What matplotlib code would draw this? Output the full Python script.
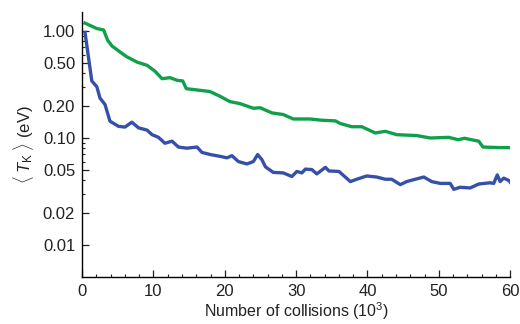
import matplotlib
matplotlib.use("Agg")
import matplotlib.pyplot as plt
from matplotlib.ticker import FixedLocator, FixedFormatter, NullFormatter

plt.rcParams["font.family"] = ["Liberation Sans", "DejaVu Sans"]
plt.rcParams["mathtext.fontset"] = "custom"
plt.rcParams["mathtext.rm"] = "Liberation Sans"
plt.rcParams["mathtext.it"] = "Liberation Sans:italic"

# Mean kinetic energy versus number of collisions (thousands)
green_x = [0.4, 2.06, 3.0, 3.6, 4.2, 5.3, 6.2, 7.7, 9.1, 10.2, 11.2, 12.3, 13.3,
           14.1, 14.6, 16.1, 17.9, 19.3, 20.7, 22.1, 24.0, 24.95, 26.6, 28.2,
           29.6, 31.96, 33.6, 35.5, 36.2, 37.8, 39.2, 41.1, 42.5, 44.1, 46.9,
           48.8, 51.4, 52.7, 53.6, 55.6, 56.2, 58.6, 60.0]
green_y = [1.18, 1.05, 1.02, 0.81, 0.72, 0.635, 0.575, 0.51, 0.476, 0.42, 0.357,
           0.365, 0.345, 0.34, 0.288, 0.28, 0.271, 0.245, 0.218, 0.209, 0.189,
           0.191, 0.171, 0.165, 0.150, 0.150, 0.146, 0.144, 0.136, 0.127, 0.127,
           0.111, 0.115, 0.107, 0.105, 0.0996, 0.101, 0.096, 0.099, 0.093,
           0.082, 0.081, 0.081]

blue_x = [0.4, 1.35, 2.06, 2.5, 3.2, 3.9, 5.1, 6.0, 6.96, 7.9, 9.1, 9.8, 10.7,
          11.6, 12.6, 13.5, 14.7, 16.1, 16.8, 18.0, 19.4, 20.3, 21.0, 21.9,
          23.1, 24.0, 24.6, 25.2, 25.7, 26.8, 28.2, 29.4, 30.1, 30.8, 31.3,
          32.2, 32.9, 34.1, 34.6, 36.0, 37.6, 38.5, 39.9, 41.3, 42.5, 43.4,
          44.6, 45.5, 46.4, 47.9, 49.0, 50.2, 51.6, 52.1, 53.0, 54.4, 55.6,
          57.2, 57.7, 58.2, 58.6, 59.1, 59.8, 60.0]
blue_y = [0.966, 0.34, 0.30, 0.235, 0.205, 0.143, 0.128, 0.126, 0.140, 0.124,
          0.118, 0.107, 0.101, 0.089, 0.093, 0.082, 0.080, 0.082, 0.073, 0.0697,
          0.067, 0.065, 0.0681, 0.060, 0.057, 0.060, 0.0697, 0.0625, 0.0535,
          0.0475, 0.047, 0.0435, 0.0485, 0.047, 0.051, 0.0505, 0.046, 0.053,
          0.049, 0.0485, 0.039, 0.041, 0.044, 0.043, 0.041, 0.041, 0.0365,
          0.039, 0.0405, 0.043, 0.039, 0.0375, 0.0375, 0.033, 0.0345, 0.034,
          0.037, 0.038, 0.0375, 0.045, 0.039, 0.042, 0.040, 0.0385]

y_ticks = [0.01, 0.02, 0.05, 0.10, 0.20, 0.50, 1.00]
y_tick_labels = ["0.01", "0.02", "0.05", "0.10", "0.20", "0.50", "1.00"]
x_ticks = [0, 10, 20, 30, 40, 50, 60]

fig = plt.figure(figsize=(5.2, 3.24), dpi=100)
ax = fig.add_axes([0.158, 0.145, 0.823, 0.818])

ax.plot(green_x, green_y, color="#10a04c", lw=2.4, solid_joinstyle="round")
ax.plot(blue_x, blue_y, color="#3550a8", lw=2.4, solid_joinstyle="round")

ax.set_yscale("log")
ax.set_ylim(0.005, 1.5)
ax.set_xlim(0, 60)

ax.yaxis.set_major_locator(FixedLocator(y_ticks))
ax.yaxis.set_major_formatter(FixedFormatter(y_tick_labels))
ax.yaxis.set_minor_locator(FixedLocator([0.03, 0.04, 0.06, 0.07, 0.08, 0.09,
                                         0.3, 0.4, 0.6, 0.7, 0.8, 0.9]))
ax.yaxis.set_minor_formatter(NullFormatter())
ax.set_xticks(x_ticks)
ax.set_xticks(range(0, 61, 2), minor=True)

for s in ("top", "right"):
    ax.spines[s].set_visible(False)
for s in ("left", "bottom"):
    ax.spines[s].set_linewidth(1.0)

ax.tick_params(which="major", direction="in", length=5, width=0.9,
               labelsize=12, pad=5, color="#222222", labelcolor="#222222")
ax.tick_params(which="minor", direction="in", length=2.5, width=0.8,
               color="#222222")

ax.set_xlabel("Number of collisions (10$^3$)", fontsize=11.5, color="#222222",
              labelpad=1)
ax.set_ylabel(r"$\langle\;T_{\mathrm{K}}\;\rangle$ (eV)", fontsize=12,
              color="#222222", labelpad=5)

fig.savefig("out.png", dpi=100)
